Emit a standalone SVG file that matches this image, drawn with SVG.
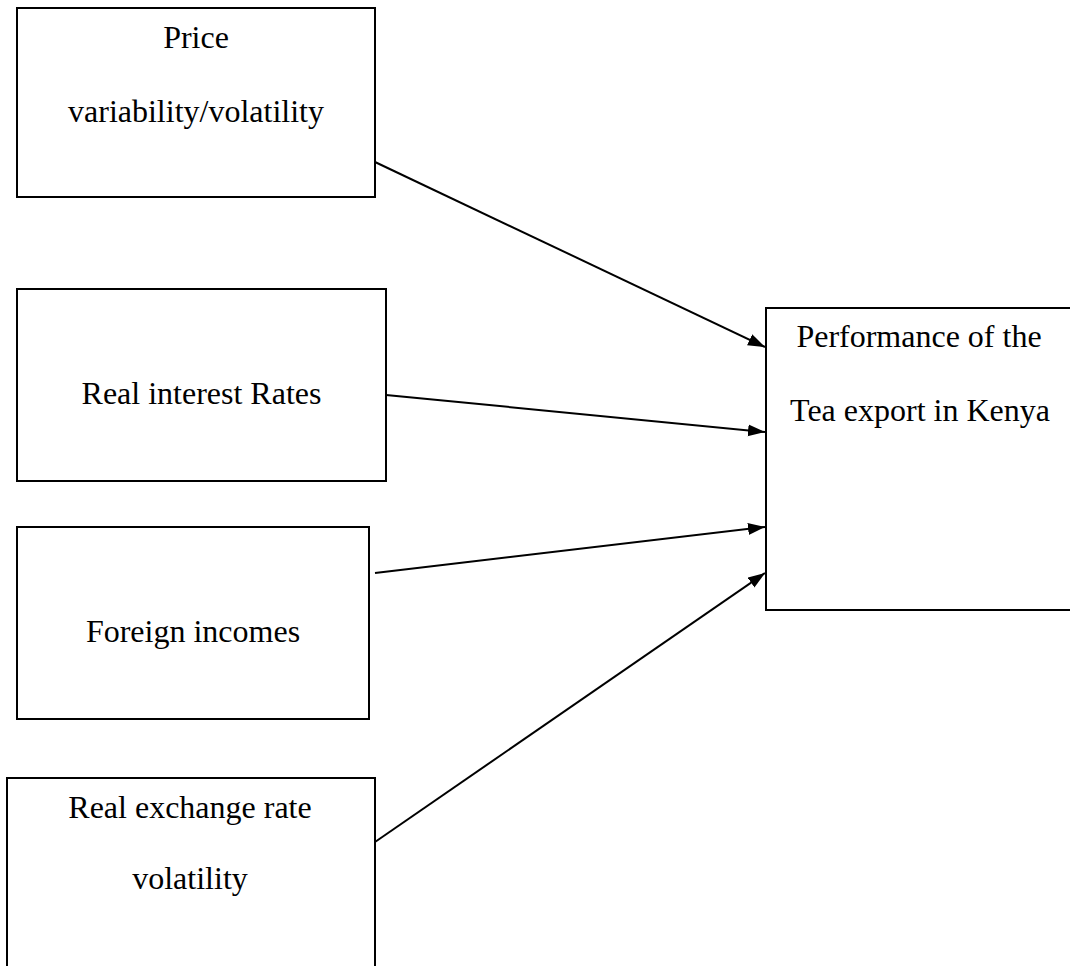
<svg xmlns="http://www.w3.org/2000/svg" width="1070" height="966" viewBox="0 0 1070 966">
<style>
.box{fill:#fff;stroke:#000;stroke-width:2}
.lbl{font-family:"Liberation Serif","Times New Roman",serif;font-size:32px;fill:#000;text-anchor:middle}
.edge{stroke:#000;stroke-width:2;fill:none}
</style>
<defs>
<marker id="arr" markerUnits="userSpaceOnUse" markerWidth="18" markerHeight="14" refX="17" refY="6" orient="auto">
<path d="M0,0 L17,6 L0,12 Z" fill="#000"/>
</marker>
</defs>
<rect width="1070" height="966" fill="#fff"/>
<g id="n1"><rect class="box" x="17" y="8" width="358" height="189"/>
<text class="lbl" x="196" y="48">Price</text>
<text class="lbl" x="196" y="122">variability/volatility</text></g>
<g id="n2"><rect class="box" x="17" y="289" width="369" height="192"/>
<text class="lbl" x="201.5" y="404">Real interest Rates</text></g>
<g id="n3"><rect class="box" x="17" y="527" width="352" height="192"/>
<text class="lbl" x="193" y="642">Foreign incomes</text></g>
<g id="n4"><rect class="box" x="7" y="778" width="368" height="200"/>
<text class="lbl" x="190" y="818">Real exchange rate</text>
<text class="lbl" x="190" y="889">volatility</text></g>
<g id="n5"><rect class="box" x="766" y="308" width="320" height="302"/>
<text class="lbl" x="919" y="347">Performance of the</text>
<text class="lbl" x="920" y="421">Tea export in Kenya</text></g>
<g id="edges">
<line class="edge" x1="375" y1="162" x2="765" y2="347" marker-end="url(#arr)"/>
<line class="edge" x1="386" y1="395" x2="765" y2="432" marker-end="url(#arr)"/>
<line class="edge" x1="375" y1="573" x2="765" y2="527" marker-end="url(#arr)"/>
<line class="edge" x1="375" y1="842" x2="765" y2="573" marker-end="url(#arr)"/>
</g>
</svg>
